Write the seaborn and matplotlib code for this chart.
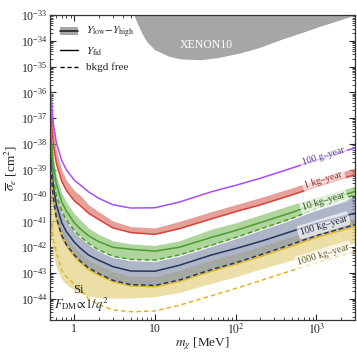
import numpy as np
import pandas as pd
import seaborn as sns
import matplotlib.pyplot as plt
import matplotlib.ticker as mticker
from matplotlib.patches import Patch
from matplotlib.lines import Line2D

# dark matter mass grid [MeV]
mass = [0.5, 0.55, 0.6, 0.7, 0.8, 1, 1.2, 1.5, 2, 3, 5, 10, 20, 50, 100, 200, 500, 1000, 3000]

# log10 of cross sections
g100_fid = [-35.6, -37.2, -37.95, -38.65, -39.0, -39.4, -39.6, -39.85, -40.1, -40.35, -40.48, -40.47, -40.25, -39.85, -39.6, -39.33, -38.93, -38.62, -38.15]

kg1_fid = [-36.5, -38.0, -38.75, -39.45, -39.8, -40.2, -40.4, -40.68, -40.92, -41.25, -41.43, -41.5, -41.28, -40.9, -40.62, -40.36, -39.97, -39.65, -39.19]
kg1_high = [-36.0, -37.5, -38.25, -39.0, -39.4, -39.8, -40.0, -40.35, -40.62, -40.98, -41.2, -41.25, -41.0, -40.62, -40.35, -40.08, -39.7, -39.38, -38.93]

kg10_high = [-37.0, -38.5, -39.2, -39.9, -40.25, -40.7, -40.95, -41.25, -41.5, -41.75, -41.87, -41.93, -41.75, -41.3, -41.05, -40.75, -40.35, -40.05, -39.64]
kg10_fid = [-37.3, -38.8, -39.55, -40.25, -40.6, -41.05, -41.3, -41.55, -41.78, -42.0, -42.08, -42.15, -42.0, -41.62, -41.35, -41.05, -40.65, -40.3, -39.84]
kg10_free = [-37.8, -39.3, -40.0, -40.6, -40.95, -41.35, -41.6, -41.85, -42.1, -42.35, -42.47, -42.5, -42.3, -41.92, -41.62, -41.3, -40.88, -40.5, -39.97]

kg100_high = [-37.85, -39.35, -40.05, -40.65, -41.0, -41.4, -41.65, -41.9, -42.15, -42.4, -42.52, -42.55, -42.35, -41.97, -41.67, -41.35, -40.93, -40.55, -40.02]
kg100_fid = [-38.1, -39.6, -40.35, -41.05, -41.4, -41.8, -42.05, -42.3, -42.5, -42.75, -42.92, -42.93, -42.7, -42.3, -42.05, -41.78, -41.38, -41.07, -40.68]
kg100_free = [-38.6, -40.1, -40.85, -41.55, -41.9, -42.3, -42.55, -42.8, -43.02, -43.28, -43.45, -43.48, -43.27, -42.87, -42.6, -42.3, -41.88, -41.55, -41.13]

kg1000_high = [-38.3, -39.8, -40.55, -41.25, -41.6, -42.0, -42.25, -42.5, -42.7, -42.95, -43.12, -43.13, -42.9, -42.5, -42.25, -41.98, -41.58, -41.27, -40.88]
kg1000_fid = [-38.65, -40.15, -40.9, -41.6, -41.95, -42.35, -42.6, -42.87, -43.08, -43.33, -43.5, -43.53, -43.33, -42.93, -42.66, -42.37, -41.95, -41.62, -41.2]
kg1000_low = [-41.5, -42.3, -42.8, -43.25, -43.45, -43.65, -43.78, -43.9, -43.95, -43.97, -43.97, -43.92, -43.75, -43.4, -43.15, -42.85, -42.5, -42.2, -41.85]
kg1000_free = [-40.8, -41.7, -42.2, -42.9, -43.15, -43.42, -43.65, -44.0, -44.22, -44.43, -44.5, -44.47, -44.25, -43.88, -43.6, -43.3, -42.9, -42.6, -42.17]

# XENON10 excluded region boundary
xe_mass = [5.5, 6, 7, 8, 10, 15, 21, 37, 60, 116, 200, 360, 700, 1120, 2000, 3000]
xe_sigma = [-33.0, -33.3, -33.75, -34.05, -34.35, -34.6, -34.7, -34.73, -34.65, -34.46, -34.25, -33.95, -33.65, -33.43, -33.18, -33.0]

exposures = ['100 g\u2013year', '1 kg\u2013year', '10 kg\u2013year', '100 kg\u2013year', '1000 kg\u2013year']
label_y = [-38.48, -39.38, -40.23, -41.15, -42.3]
line_colors = ['#a64dff', '#d9423a', '#4f9a34', '#26355e', '#e0b52a']
band_colors = ['#a64dff', '#dd8078', '#8cc472', '#7884a0', '#e6d48a']
label_colors = ['#5b3a8c', '#8a2d2a', '#2f5a22', '#1d2640', '#6b5716']

sns.set_theme(style='ticks')
plt.rcParams['font.family'] = ['Liberation Serif', 'DejaVu Serif']
plt.rcParams['mathtext.fontset'] = 'stix'

fig = plt.figure(figsize=(3.57, 3.55), dpi=100)
ax = fig.add_axes([0.140, 0.0986, 0.854, 0.859])

m = np.array(mass)
p = lambda v: 10.0 ** np.array(v)

# bands
ax.fill_between(m, p(kg1000_low), p(kg1000_high), color=band_colors[4], alpha=0.75, lw=0)
ax.fill_between(m, p(kg100_free), p(kg100_high), color=band_colors[3], alpha=0.6, lw=0)
ax.fill_between(m, p(kg10_free), p(kg10_high), color=band_colors[2], alpha=0.7, lw=0)
ax.fill_between(m, p(kg1_fid), p(kg1_high), color=band_colors[1], alpha=0.75, lw=0)

# lines
fid = [g100_fid, kg1_fid, kg10_fid, kg100_fid, kg1000_fid]
for vals, c in zip(fid, line_colors):
    sns.lineplot(x=m, y=p(vals), color=c, lw=1.1, ax=ax)
free = [(kg10_free, line_colors[2]), (kg100_free, line_colors[3]), (kg1000_free, line_colors[4])]
for vals, c in free:
    sns.lineplot(x=m, y=p(vals), color=c, lw=1.1, ls=(0, (3, 2)), ax=ax)

# XENON10
ax.fill_between(xe_mass, p(xe_sigma), 1e-33, color='#a6a6a6', lw=0)
ax.text(43, 10**-34.15, 'XENON10', color='white', fontsize=8.5, ha='center', va='center')

ax.set_xscale('log')
ax.set_yscale('log')
ax.set_xlim(0.5, 3000)
ax.set_ylim(10**-44.82, 1e-33)

ax.yaxis.set_major_locator(mticker.LogLocator(base=10, numticks=30))
ax.yaxis.set_minor_locator(mticker.LogLocator(base=10, subs=np.arange(2, 10), numticks=30))
ax.yaxis.set_minor_formatter(mticker.NullFormatter())
ax.xaxis.set_major_locator(mticker.FixedLocator([1, 10, 100, 1000]))
ax.xaxis.set_major_formatter(mticker.FixedFormatter(['1', '10', r'$10^2$', r'$10^3$']))
ax.xaxis.set_minor_locator(mticker.LogLocator(base=10, subs=np.arange(2, 10), numticks=30))
ax.xaxis.set_minor_formatter(mticker.NullFormatter())
ax.tick_params(which='both', direction='in', top=True, right=True, labelsize=8.5, pad=2)
ax.tick_params(which='major', length=4, width=0.8)
ax.tick_params(which='minor', length=2, width=0.6)
for s in ax.spines.values():
    s.set_linewidth(0.9)
    s.set_color('#333333')

ax.set_xlabel(r'$m_\chi$ [MeV]', fontsize=9.5, labelpad=-1)
ax.set_ylabel(r'$\overline{\sigma}_e$ [cm$^2$]', fontsize=9.5, labelpad=1)

# exposure labels along the curves
for txt, ly, c in zip(exposures, label_y, label_colors):
    ax.text(1230, 10**ly, txt, color=c, fontsize=7, rotation=17, ha='center', va='center',
            bbox=dict(boxstyle='round,pad=0.25', fc='white', ec='none', alpha=0.65))

ax.text(1.13, 10**-43.65, 'Si', fontsize=9, ha='center', va='center')
ax.text(0.56, 10**-44.23, r'$F_{\rm DM}\!\propto\!1/q^2$', fontsize=9, ha='left', va='center')

handles = [(Patch(color='#a6a6a6', lw=0), Line2D([], [], color='#222222', lw=1.2)),
           Line2D([], [], color='black', lw=1.0),
           Line2D([], [], color='black', lw=1.0, ls=(0, (3, 2)))]
labels = [r'$Y_{\rm low}\!-\!Y_{\rm high}$', r'$Y_{\rm fid}$', 'bkgd free']
ax.legend(handles, labels, loc='upper left', frameon=False, fontsize=8, handlelength=1.6,
          handletextpad=0.7, labelspacing=0.45, borderaxespad=0.5)

fig.savefig('out.png', dpi=100)
